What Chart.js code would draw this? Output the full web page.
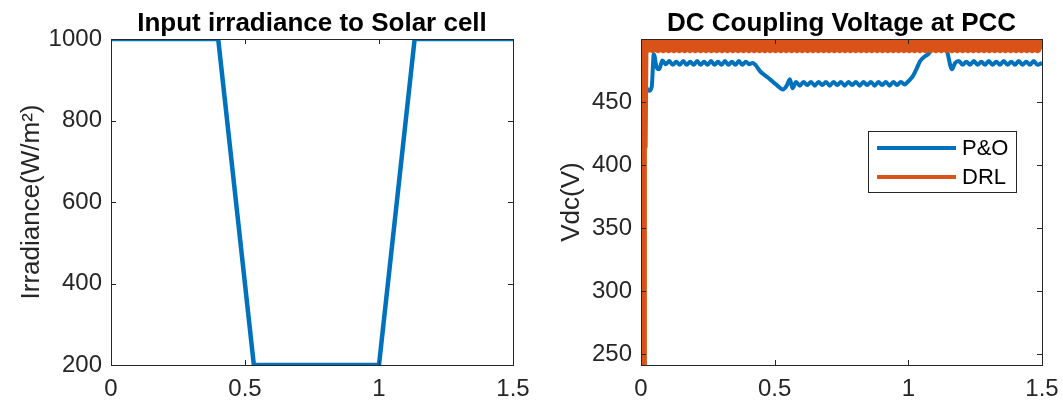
<!DOCTYPE html>
<html>
<head>
<meta charset="utf-8">
<script src="https://cdn.jsdelivr.net/npm/chart.js@4.4.1/dist/chart.umd.min.js"></script>
<style>
  html, body { margin: 0; padding: 0; background: #fff; }
  #wrap { position: relative; width: 1063px; height: 403px; overflow: hidden; }
  .pane { position: absolute; top: 0; height: 403px; }
  #leftPane { left: 0; width: 530px; }
  #rightPane { left: 530px; width: 533px; }
</style>
</head>
<body>
<div id="wrap">
  <div class="pane" id="leftPane"><canvas id="irrChart"></canvas></div>
  <div class="pane" id="rightPane"><canvas id="vdcChart"></canvas></div>
</div>
<script>
// Shared time axis ticks (s)
const timeTicks = [0, 0.5, 1, 1.5];

// Irradiance profile applied to the PV array
const irrTime = [0, 0.4, 0.533, 1.0, 1.133, 1.5];
const irrValue = [1000, 1000, 200, 200, 1000, 1000];
const irrTicks = [200, 400, 600, 800, 1000];

// DC link voltage, P&O controller
const poTime = [
  0, 0.004, 0.012, 0.03, 0.04, 0.048, 0.058, 0.068,
  0.080, 0.093, 0.106, 0.119, 0.132, 0.145, 0.158, 0.171, 0.184, 0.197,
  0.210, 0.223, 0.236, 0.249, 0.262, 0.275, 0.288, 0.301, 0.314, 0.327,
  0.340, 0.353, 0.366, 0.379, 0.392, 0.405, 0.418,
  0.430, 0.445, 0.465, 0.483, 0.505, 0.531, 0.545, 0.557, 0.567,
  0.580, 0.594, 0.608, 0.622, 0.636, 0.650, 0.664, 0.678, 0.692, 0.706,
  0.720, 0.734, 0.748, 0.762, 0.776, 0.790, 0.804, 0.818, 0.832, 0.846,
  0.860, 0.874, 0.888, 0.902, 0.916, 0.930, 0.944, 0.958, 0.972, 0.986,
  1.000, 1.017, 1.030, 1.044, 1.060, 1.074, 1.100, 1.130, 1.145, 1.163, 1.175,
  1.189, 1.203, 1.217, 1.231, 1.245, 1.259, 1.273, 1.287, 1.301, 1.315,
  1.329, 1.343, 1.357, 1.371, 1.385, 1.399, 1.413, 1.427, 1.441, 1.455,
  1.469, 1.483, 1.500
];
const poValue = [
  241, 491, 470, 459, 462, 488, 478, 476,
  483, 480, 482.5, 479.5, 482, 479.5, 482.5, 479.5, 482, 479.5,
  482.5, 479.5, 482, 479.5, 482.5, 479.5, 482, 479.5, 482.5, 479.5,
  482, 479.5, 482.5, 479.5, 482, 480, 481,
  479, 474.5, 471, 468, 464, 460, 463, 468, 461,
  466, 463, 466, 463.5, 466, 463, 466, 463.5, 466, 463,
  466, 463.5, 466, 463, 466, 463.5, 466, 463, 466, 463.5,
  466, 463, 466, 463.5, 466, 463, 466, 463.5, 466, 464,
  466.5, 470.5, 476, 482.4, 486, 488, 494, 495, 490, 476, 481,
  482.5, 479.5, 482, 479.5, 482.5, 479.5, 482, 479.5, 482.5, 479.5,
  482, 479.5, 482.5, 479.5, 482, 479.5, 482.5, 479.5, 482, 479.5,
  482.5, 479.5, 481
];

// DC link voltage, DRL controller: start-up samples, then a fixed-step record
const drlStartTime = [0.005, 0.007, 0.010, 0.013];
const drlStartValue = [241, 497, 415, 497];
const drlStep = 0.01;
const drlValue = [
  492, 499, 492, 499, 492, 499, 492, 499, 492, 499,
  492, 499, 492, 499, 492, 499, 492, 499, 492, 499,
  492, 499, 492, 499, 492, 499, 492, 499, 492, 499,
  492, 499, 492, 499, 492, 499, 492, 499, 492, 499,
  492, 499, 492, 499, 492, 499, 492, 499, 492, 499,
  492, 499, 492, 499, 492, 499, 492, 499, 492, 499,
  492, 499, 492, 499, 492, 499, 492, 499, 492, 499,
  492, 499, 492, 499, 492, 499, 492, 499, 492, 499,
  492, 499, 492, 499, 492, 499, 492, 499, 492, 499,
  492, 499, 492, 499, 492, 499, 492, 499, 492, 499,
  492, 499, 492, 499, 492, 499, 492, 499, 492, 499,
  492, 499, 492, 499, 492, 499, 492, 499, 492, 499,
  492, 499, 492, 499, 492, 499, 492, 499, 492, 499,
  492, 499, 492, 499, 492, 499, 492, 499, 492, 499,
  492, 499, 492, 499, 492, 499, 492, 499, 492
];
const vdcTicks = [250, 300, 350, 400, 450];

const seriesLabels = ["P&O", "DRL"];
const BLUE = "#0072BD";
const ORANGE = "#D95319";
const AXIS = "#262626";
const FONT = "'Liberation Sans', Arial, Helvetica, sans-serif";

function toPoints(xs, ys) {
  return xs.map((x, i) => ({ x: x, y: ys[i] }));
}

function drlPoints() {
  const pts = toPoints(drlStartTime, drlStartValue);
  const t0 = drlStartTime[drlStartTime.length - 1] + drlStep;
  drlValue.forEach((v, i) => {
    pts.push({ x: Math.min(1.5, t0 + i * drlStep), y: v });
  });
  return pts;
}

// Box around the plot area with inward tick marks on all four sides
const boxTicks = {
  id: "boxTicks",
  afterDatasetsDraw(chart) {
    const { ctx, chartArea: a, scales } = chart;
    const len = 5;
    ctx.save();
    ctx.strokeStyle = AXIS;
    ctx.lineWidth = 1;
    ctx.beginPath();
    scales.y.ticks.forEach((t) => {
      const y = Math.round(scales.y.getPixelForValue(t.value)) + 0.5;
      ctx.moveTo(a.left, y); ctx.lineTo(a.left + len, y);
      ctx.moveTo(a.right, y); ctx.lineTo(a.right - len, y);
    });
    scales.x.ticks.forEach((t) => {
      const x = Math.round(scales.x.getPixelForValue(t.value)) + 0.5;
      ctx.moveTo(x, a.bottom); ctx.lineTo(x, a.bottom - len);
      ctx.moveTo(x, a.top); ctx.lineTo(x, a.top + len);
    });
    ctx.stroke();
    ctx.strokeRect(Math.round(a.left) + 0.5, Math.round(a.top) + 0.5,
      Math.round(a.right - a.left), Math.round(a.bottom - a.top));
    ctx.restore();
  }
};

// Boxed legend inside the voltage plot
const boxLegend = {
  id: "boxLegend",
  afterDraw(chart) {
    const ctx = chart.ctx;
    const bx = 338, by = 131, bw = 148, bh = 61;
    ctx.save();
    ctx.fillStyle = "#fff";
    ctx.fillRect(bx, by, bw, bh);
    ctx.strokeStyle = AXIS;
    ctx.lineWidth = 1;
    ctx.strokeRect(bx + 0.5, by + 0.5, bw, bh);
    ctx.font = "22px " + FONT;
    ctx.textBaseline = "middle";
    chart.data.datasets.forEach((ds, i) => {
      const y = by + 17 + i * 29;
      ctx.strokeStyle = ds.borderColor;
      ctx.lineWidth = 4;
      ctx.beginPath();
      ctx.moveTo(bx + 9, y);
      ctx.lineTo(bx + 88, y);
      ctx.stroke();
      ctx.fillStyle = "#000";
      ctx.fillText(ds.label, bx + 94, y + 1);
    });
    ctx.restore();
  }
};

function baseOptions(cfg) {
  return {
    responsive: true,
    maintainAspectRatio: false,
    animation: false,
    layout: { padding: { left: 0, right: cfg.padRight, top: 0, bottom: 0 } },
    elements: { line: { borderJoinStyle: "round", borderCapStyle: "butt" } },
    plugins: {
      legend: { display: false },
      tooltip: { enabled: false },
      title: {
        display: true,
        text: cfg.title,
        fullSize: false,
        color: "#000",
        font: { family: FONT, size: 26, weight: "bold", lineHeight: 1.2 },
        padding: { top: 7.8, bottom: 0 }
      }
    },
    scales: {
      x: {
        type: "linear",
        min: 0,
        max: 1.5,
        afterBuildTicks: (s) => { s.ticks = timeTicks.map((v) => ({ value: v })); },
        afterFit: (s) => { s.height = 38; s.paddingLeft = 0; s.paddingRight = 0; },
        grid: { display: false, drawTicks: false },
        border: { display: false },
        ticks: {
          color: AXIS,
          padding: 10,
          maxRotation: 0,
          autoSkip: false,
          font: { family: FONT, size: 24 },
          callback: (v) => String(v)
        }
      },
      y: {
        type: "linear",
        min: cfg.yMin,
        max: cfg.yMax,
        afterBuildTicks: (s) => { s.ticks = cfg.yTicks.map((v) => ({ value: v })); },
        afterFit: (s) => { s.width = 111; },
        grid: { display: false, drawTicks: false },
        border: { display: false },
        ticks: {
          color: AXIS,
          padding: 9,
          autoSkip: false,
          font: { family: FONT, size: 24 },
          callback: (v) => String(v)
        },
        title: {
          display: true,
          text: cfg.yLabel,
          color: AXIS,
          font: { family: FONT, size: 26, lineHeight: 1.2 },
          padding: { top: cfg.yTitlePad, bottom: 0 }
        }
      }
    }
  };
}

new Chart(document.getElementById("irrChart"), {
  type: "line",
  data: {
    datasets: [{
      label: "Irradiance",
      data: toPoints(irrTime, irrValue),
      borderColor: BLUE,
      borderWidth: 4.5,
      pointRadius: 0,
      tension: 0
    }]
  },
  options: baseOptions({
    title: "Input irradiance to Solar cell",
    yLabel: "Irradiance(W/m\u00B2)",
    yMin: 200, yMax: 1000, yTicks: irrTicks,
    padRight: 17, yTitlePad: 16
  }),
  plugins: [boxTicks]
});

new Chart(document.getElementById("vdcChart"), {
  type: "line",
  data: {
    datasets: [
      {
        label: seriesLabels[0],
        data: toPoints(poTime, poValue),
        borderColor: BLUE,
        borderWidth: 4,
        pointRadius: 0,
        cubicInterpolationMode: "monotone",
        order: 2
      },
      {
        label: seriesLabels[1],
        data: drlPoints(),
        borderColor: ORANGE,
        borderWidth: 8,
        pointRadius: 0,
        tension: 0,
        order: 1
      }
    ]
  },
  options: baseOptions({
    title: "DC Coupling Voltage at PCC",
    yLabel: "Vdc(V)",
    yMin: 241.5, yMax: 500, yTicks: vdcTicks,
    padRight: 21, yTitlePad: 26
  }),
  plugins: [boxTicks, boxLegend]
});
</script>
</body>
</html>
